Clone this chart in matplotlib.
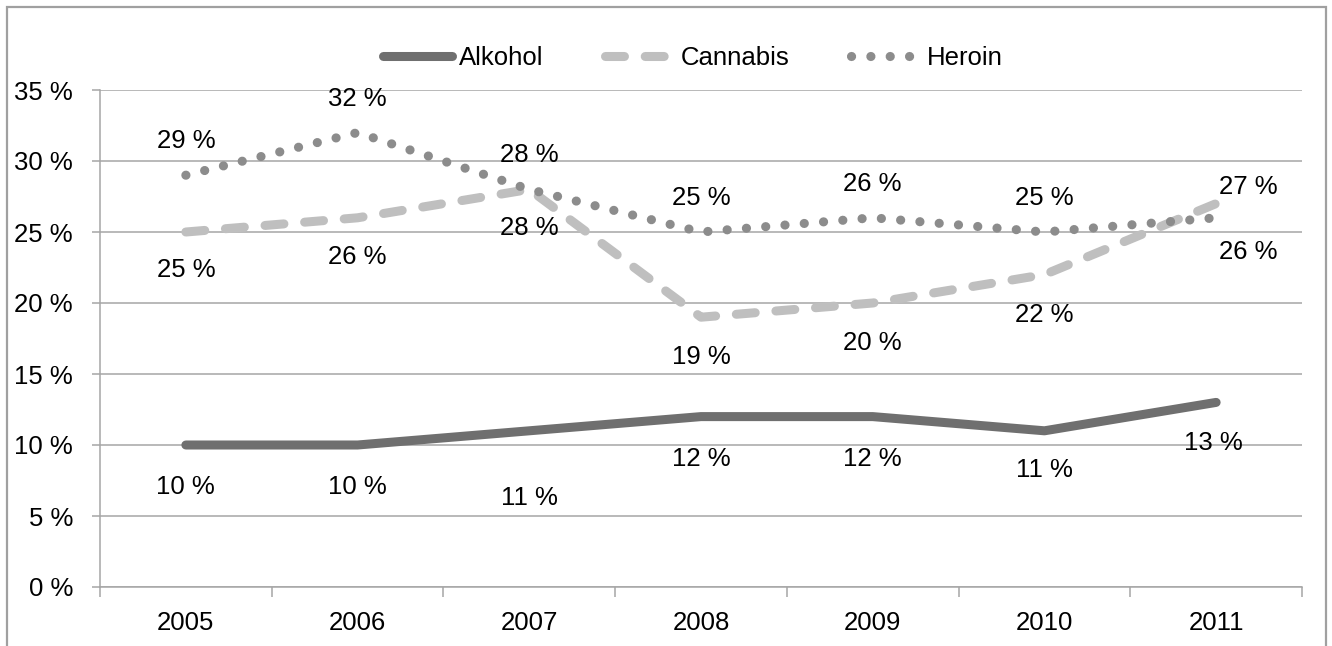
import matplotlib
matplotlib.use('Agg')
import matplotlib.pyplot as plt
from matplotlib.patches import Rectangle

years = ["2005", "2006", "2007", "2008", "2009", "2010", "2011"]
alkohol = [10, 10, 11, 12, 12, 11, 13]
cannabis = [25, 26, 28, 19, 20, 22, 27]
heroin = [29, 32, 28, 25, 26, 25, 26]
y_ticks = [0, 5, 10, 15, 20, 25, 30, 35]

# label offsets in pixels (dx, dy) relative to each point
alkohol_off = [(0, -42), (0, -42), (0, -67), (0, -42), (0, -42), (0, -39), (-3, -41)]
cannabis_off = [(0, -38), (0, -39), (0, -39), (0, -40), (0, -40), (0, -40), (32, 17)]
heroin_off = [(0, 34), (0, 34), (0, 34), (0, 34), (0, 34), (0, 34), (32, -34)]

plt.rcParams['font.family'] = ['Liberation Sans', 'DejaVu Sans']
FS = 18.5
grid_col = '#a6a6a6'

W, H = 1332, 646
fig = plt.figure(figsize=(W / 100, H / 100), dpi=100)
ax = fig.add_axes([100 / W, 1 - 587 / H, 1202 / W, 497 / H])

# outer chart border
fig.patches.append(Rectangle((7 / W, -0.05), 1319 / W, 1.05 - 7 / H,
                             transform=fig.transFigure, fill=False,
                             edgecolor='#a0a0a0', lw=1.6, clip_on=False))

x = list(range(len(years)))

ax.plot(x, alkohol, color='#6f6f6f', lw=6.5, solid_capstyle='round',
        solid_joinstyle='round', label='Alkohol', clip_on=False, zorder=3)
ax.plot(x, cannabis, color='#bfbfbf', lw=6.5, linestyle=(0, (2.1, 2.3)),
        dash_capstyle='round', dash_joinstyle='round', label='Cannabis',
        clip_on=False, zorder=4)
ax.plot(x, heroin, color='#8c8c8c', lw=6.6, linestyle=(0, (0.01, 2.1)),
        dash_capstyle='round', label='Heroin', clip_on=False, zorder=5)

for series, offs in [(alkohol, alkohol_off), (cannabis, cannabis_off), (heroin, heroin_off)]:
    for xi, v, (dx, dy) in zip(x, series, offs):
        ax.annotate(f"{v} %", (xi, v), xytext=(dx, dy), textcoords='offset pixels',
                    ha='center', va='center', fontsize=FS, color='black', zorder=6)

ax.set_xlim(-0.5, len(years) - 0.5)
ax.set_ylim(0, 35)
ax.set_yticks(y_ticks)
ax.set_yticklabels([f"{t} %" for t in y_ticks])
ax.yaxis.grid(True, color=grid_col, lw=1.1)
ax.set_axisbelow(True)

# category boundaries get tick marks, labels sit at the centres
ax.set_xticks([i - 0.5 for i in range(len(years) + 1)])
ax.set_xticklabels([])
ax.set_xticks(x, minor=True)
ax.set_xticklabels(years, minor=True)
ax.tick_params(axis='x', which='major', length=7, width=1.1, color=grid_col)
ax.tick_params(axis='x', which='minor', length=0, pad=17, labelsize=FS)
ax.tick_params(axis='y', length=6, width=1.1, color=grid_col, pad=13.5, labelsize=FS)

for s in ['top', 'right']:
    ax.spines[s].set_visible(False)
for s in ['left', 'bottom']:
    ax.spines[s].set_color(grid_col)
    ax.spines[s].set_linewidth(1.1)

ax.legend(loc='center left', bbox_to_anchor=(383 / W, 1 - 58 / H),
          bbox_transform=fig.transFigure, ncol=3, frameon=False, fontsize=FS,
          handlelength=2.7, handletextpad=0.25, columnspacing=2.4,
          borderpad=0, borderaxespad=0)

fig.savefig('out.png', dpi=100)
